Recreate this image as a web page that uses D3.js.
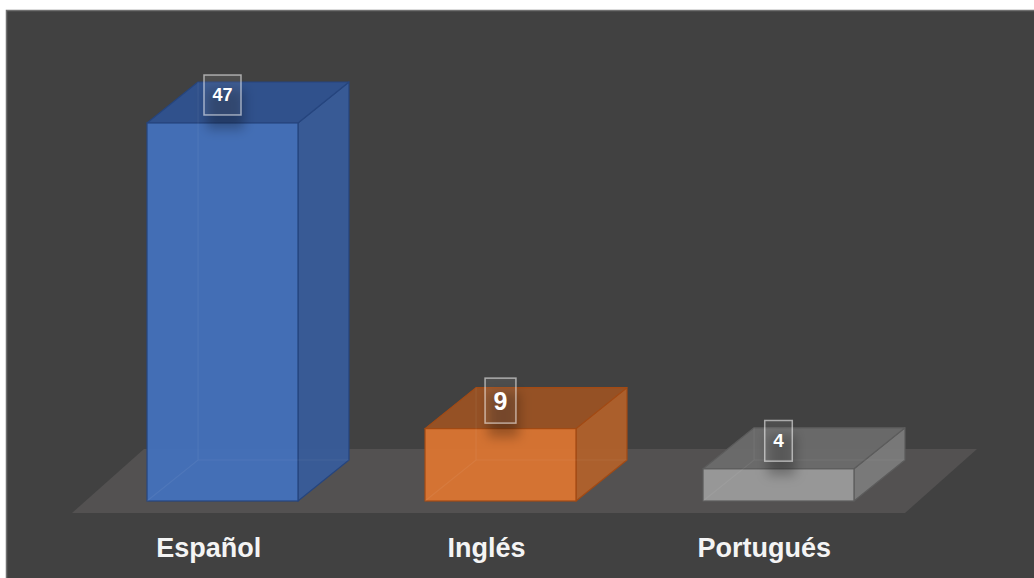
<!DOCTYPE html>
<html>
<head>
<meta charset="utf-8">
<script src="https://cdn.jsdelivr.net/npm/d3@7"></script>
<style>
  html, body { margin: 0; padding: 0; background: #ffffff; }
  svg { display: block; }
</style>
</head>
<body>
<svg id="chart" width="1034" height="578"></svg>
<script>
// Idiomas: number of responses per language
const categories = ["Español", "Inglés", "Portugués"];
const values = [47, 9, 4];

// Face colours per category: front, top, side, edge
const palette = {
  "Español":   { front: "#4470ba", top: "#2f5290", side: "#385c9a", edge: "#26457e" },
  "Inglés":    { front: "#da7532", top: "#9a5224", side: "#b1612b", edge: "#a24a14" },
  "Portugués": { front: "#9a9a9a", top: "#6b6b6b", side: "#7b7b7b", edge: "#5c5c5c" }
};
// Data-label font size per category
const labelFont = { "Español": 18, "Inglés": 25, "Portugués": 19 };

const W = 1034, H = 578;
const svg = d3.select("#chart");

const defs = svg.append("defs");
const shadow = defs.append("filter").attr("id", "lblShadow")
  .attr("x", "-80%").attr("y", "-80%").attr("width", "260%").attr("height", "260%");
shadow.append("feGaussianBlur").attr("stdDeviation", 6);

// Chart area with thin light frame
svg.append("rect").attr("x", 6).attr("y", 10).attr("width", W - 6).attr("height", H - 10)
  .attr("fill", "#414141");
svg.append("path")
  .attr("d", `M6.5,${H} V10.5 H${W}`)
  .attr("fill", "none").attr("stroke", "#6f6f6f").attr("stroke-width", 1.5);

// Scales: labels sit under the floor's front edge, boxes on the mid-depth plane
const xLabel = d3.scaleBand().domain(categories).range([72, 905]);
const xBar = d3.scaleBand().domain(categories).range([83.5, 917.5])
  .paddingInner(0.457).paddingOuter(0.2285);
const y = d3.scaleLinear().domain([0, d3.max(values)]).range([501, 123]);

// Oblique depth of the boxes and of the floor
const depthX = 51, depthY = -41;
const floorFront = 513, floorBack = 449, floorDX = 72;

// Floor
const [fl, fr] = xLabel.range();
svg.append("polygon")
  .attr("points", [[fl, floorFront], [fl + floorDX, floorBack], [fr + floorDX, floorBack], [fr, floorFront]]
    .map(p => p.join(",")).join(" "))
  .attr("fill", "#535151");

// 3D boxes
const bars = svg.append("g").selectAll("g").data(categories.map((c, i) => ({ c, v: values[i] })))
  .join("g");

bars.each(function (d) {
  const g = d3.select(this);
  const col = palette[d.c];
  const x0 = xBar(d.c), x1 = x0 + xBar.bandwidth();
  const yb = y(0), yt = y(d.v);
  const pts = a => a.map(p => p.join(",")).join(" ");

  // side face
  g.append("polygon")
    .attr("points", pts([[x1, yt], [x1 + depthX, yt + depthY], [x1 + depthX, yb + depthY], [x1, yb]]))
    .attr("fill", col.side).attr("fill-opacity", 0.95)
    .attr("stroke", col.edge).attr("stroke-width", 1.2).attr("stroke-linejoin", "round");
  // top face
  g.append("polygon")
    .attr("points", pts([[x0, yt], [x0 + depthX, yt + depthY], [x1 + depthX, yt + depthY], [x1, yt]]))
    .attr("fill", col.top).attr("fill-opacity", 0.95)
    .attr("stroke", col.edge).attr("stroke-width", 1.2).attr("stroke-linejoin", "round");
  // front face
  g.append("rect")
    .attr("x", x0).attr("y", yt).attr("width", x1 - x0).attr("height", yb - yt)
    .attr("fill", col.front).attr("fill-opacity", 0.96)
    .attr("stroke", col.edge).attr("stroke-width", 1.2);
  // hidden back edges showing through the translucent faces
  g.append("path")
    .attr("d", `M${x0},${yb} L${x0 + depthX},${yb + depthY} H${x1 + depthX} M${x0 + depthX},${yb + depthY} V${yt + depthY}`)
    .attr("fill", "none").attr("stroke", "#ffffff").attr("stroke-opacity", 0.06).attr("stroke-width", 1.2);
});

// Data labels: framed boxes with a soft shadow
bars.each(function (d) {
  const g = d3.select(this);
  const fs = labelFont[d.c];
  const cx = xBar(d.c) + xBar.bandwidth() / 2;
  const cy = y(d.v) - 28;
  const t = g.append("text")
    .attr("x", cx).attr("y", cy)
    .attr("text-anchor", "middle").attr("dominant-baseline", "central")
    .attr("font-family", "'Liberation Sans', Arial, sans-serif")
    .attr("font-weight", "bold").attr("font-size", fs)
    .attr("fill", "#ffffff")
    .text(d.v);
  const tw = t.node().getComputedTextLength();
  const bw = tw + 17, bh = fs * 0.72 + 27;
  g.insert("rect", "text")
    .attr("x", cx - bw / 2 + 3).attr("y", cy - bh / 2 + 14)
    .attr("width", bw).attr("height", bh)
    .attr("fill", "#000000").attr("fill-opacity", 0.28)
    .attr("filter", "url(#lblShadow)");
  g.insert("rect", "text")
    .attr("x", cx - bw / 2).attr("y", cy - bh / 2)
    .attr("width", bw).attr("height", bh)
    .attr("fill", "#ffffff").attr("fill-opacity", 0.07)
    .attr("stroke", "#ffffff").attr("stroke-opacity", 0.55).attr("stroke-width", 1.5);
});

// Category axis labels
svg.append("g").selectAll("text").data(categories).join("text")
  .attr("x", d => xLabel(d) + xLabel.bandwidth() / 2 - 2)
  .attr("y", 557)
  .attr("text-anchor", "middle")
  .attr("font-family", "'Liberation Sans', Arial, sans-serif")
  .attr("font-weight", "bold").attr("font-size", 27)
  .attr("fill", "#f4f4f4")
  .text(d => d);
</script>
</body>
</html>
